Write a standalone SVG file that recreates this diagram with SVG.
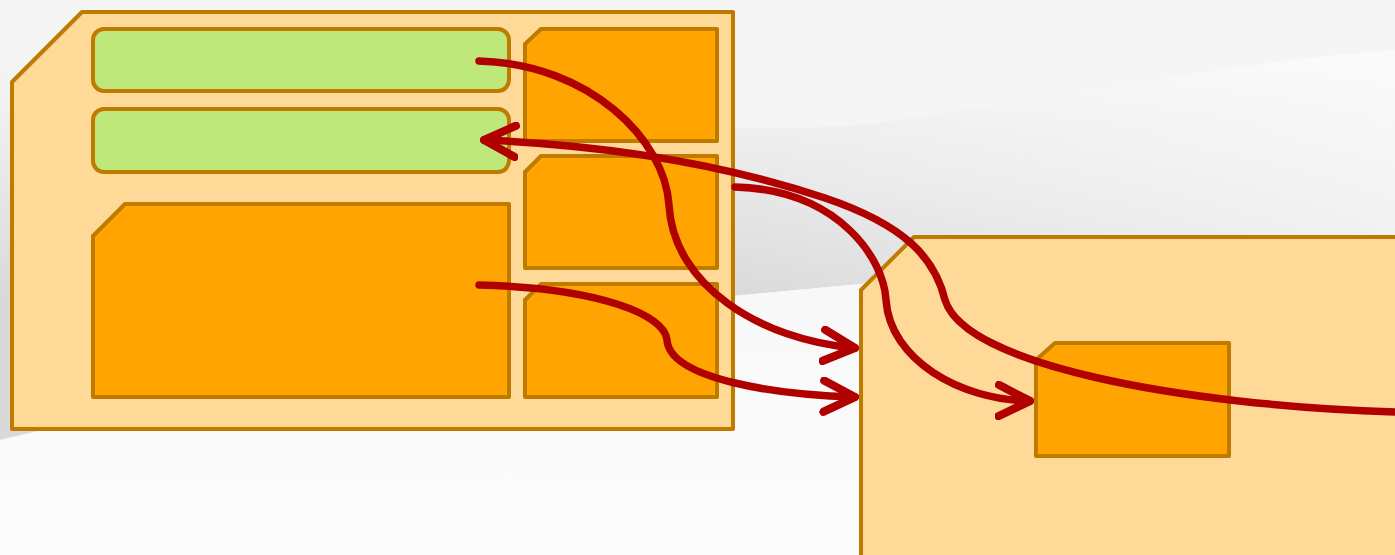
<svg xmlns="http://www.w3.org/2000/svg" width="1395" height="555" viewBox="0 0 1395 555">
  <defs>
    <style>
      .card { fill: #FED998; stroke: #BF7A00; stroke-width: 4; stroke-linejoin: round; }
      .slot { fill: #FFA400; stroke: #BF7A00; stroke-width: 4; stroke-linejoin: round; }
      .field { fill: #BFE87B; stroke: #BF7A00; stroke-width: 4; }
      .link { fill: none; stroke: #B00000; stroke-width: 7.5; stroke-linecap: round; stroke-linejoin: round; }
    </style>
    <linearGradient id="shade" x1="0" y1="60" x2="0" y2="295" gradientUnits="userSpaceOnUse">
      <stop offset="0" stop-color="#f5f5f5"/>
      <stop offset="0.55" stop-color="#e7e7e7"/>
      <stop offset="1" stop-color="#d9d9d9"/>
    </linearGradient>
    <linearGradient id="fade" x1="700" y1="0" x2="1395" y2="0" gradientUnits="userSpaceOnUse">
      <stop offset="0" stop-color="#ffffff" stop-opacity="0"/>
      <stop offset="1" stop-color="#ffffff" stop-opacity="0.55"/>
    </linearGradient>
    <linearGradient id="floor" x1="0" y1="290" x2="0" y2="555" gradientUnits="userSpaceOnUse">
      <stop offset="0" stop-color="#f8f8f8"/>
      <stop offset="1" stop-color="#fcfcfc"/>
    </linearGradient>
    <marker id="chev" viewBox="0 0 10 10" refX="9" refY="5" markerWidth="5.2" markerHeight="5.2" orient="auto" markerUnits="strokeWidth">
      <path d="M1,1 L9,5 L1,9" fill="none" stroke="#B00000" stroke-width="2.1" stroke-linecap="round" stroke-linejoin="round"/>
    </marker>
  </defs>

  <!-- backdrop: soft grey sweep over a pale floor -->
  <rect x="0" y="0" width="1395" height="555" fill="#f5f5f5"/>
  <path d="M0,60 C400,90 700,150 900,120 C1100,90 1250,60 1395,50 L1395,240 L860,284 L733,296 C500,330 250,380 0,440 Z" fill="url(#shade)"/>
  <path d="M0,60 C400,90 700,150 900,120 C1100,90 1250,60 1395,50 L1395,240 L860,284 L733,296 C500,330 250,380 0,440 Z" fill="url(#fade)"/>
  <path d="M0,440 C250,380 500,330 733,296 L860,284 L1395,240 L1395,555 L0,555 Z" fill="url(#floor)"/>

  <!-- left card -->
  <g id="card-left">
    <polygon class="card" points="12,82 82,12 733,12 733,429 12,429"/>
  </g>
  <g id="field-1">
    <rect class="field" x="93" y="29" width="416" height="62" rx="11"/>
  </g>
  <g id="field-2">
    <rect class="field" x="93" y="109" width="416" height="63" rx="11"/>
  </g>
  <g id="block-main">
    <polygon class="slot" points="93,236 125,204 509,204 509,397 93,397"/>
  </g>
  <g id="slot-1">
    <polygon class="slot" points="525,44 541,29 717,29 717,141 525,141"/>
  </g>
  <g id="slot-2">
    <polygon class="slot" points="525,172 541,156 717,156 717,268 525,268"/>
  </g>
  <g id="slot-3">
    <polygon class="slot" points="525,300 541,284 717,284 717,397 525,397"/>
  </g>

  <!-- right card -->
  <g id="card-right">
    <polygon class="card" points="861,290 914,237 1400,237 1400,560 861,560"/>
  </g>
  <g id="slot-target">
    <polygon class="slot" points="1036,360 1055,343 1229,343 1229,456 1036,456"/>
  </g>

  <!-- connectors -->
  <g id="connectors">
    <path class="link" marker-end="url(#chev)" d="M479,61 C590,64 665,140 669,205 C673,285 760,340 855,348"/>
    <path class="link" marker-end="url(#chev)" d="M479,285 C600,288 665,315 667,340 C670,380 780,395 855,397"/>
    <path class="link" marker-end="url(#chev)" d="M735,187 C840,190 884,260 886,300 C890,360 960,400 1030,401"/>
    <path class="link" marker-end="url(#chev)" d="M1395,412 C1180,405 965,365 945,300 C935,258 905,225 825,198 C720,163 600,145 484,140"/>
  </g>
</svg>
